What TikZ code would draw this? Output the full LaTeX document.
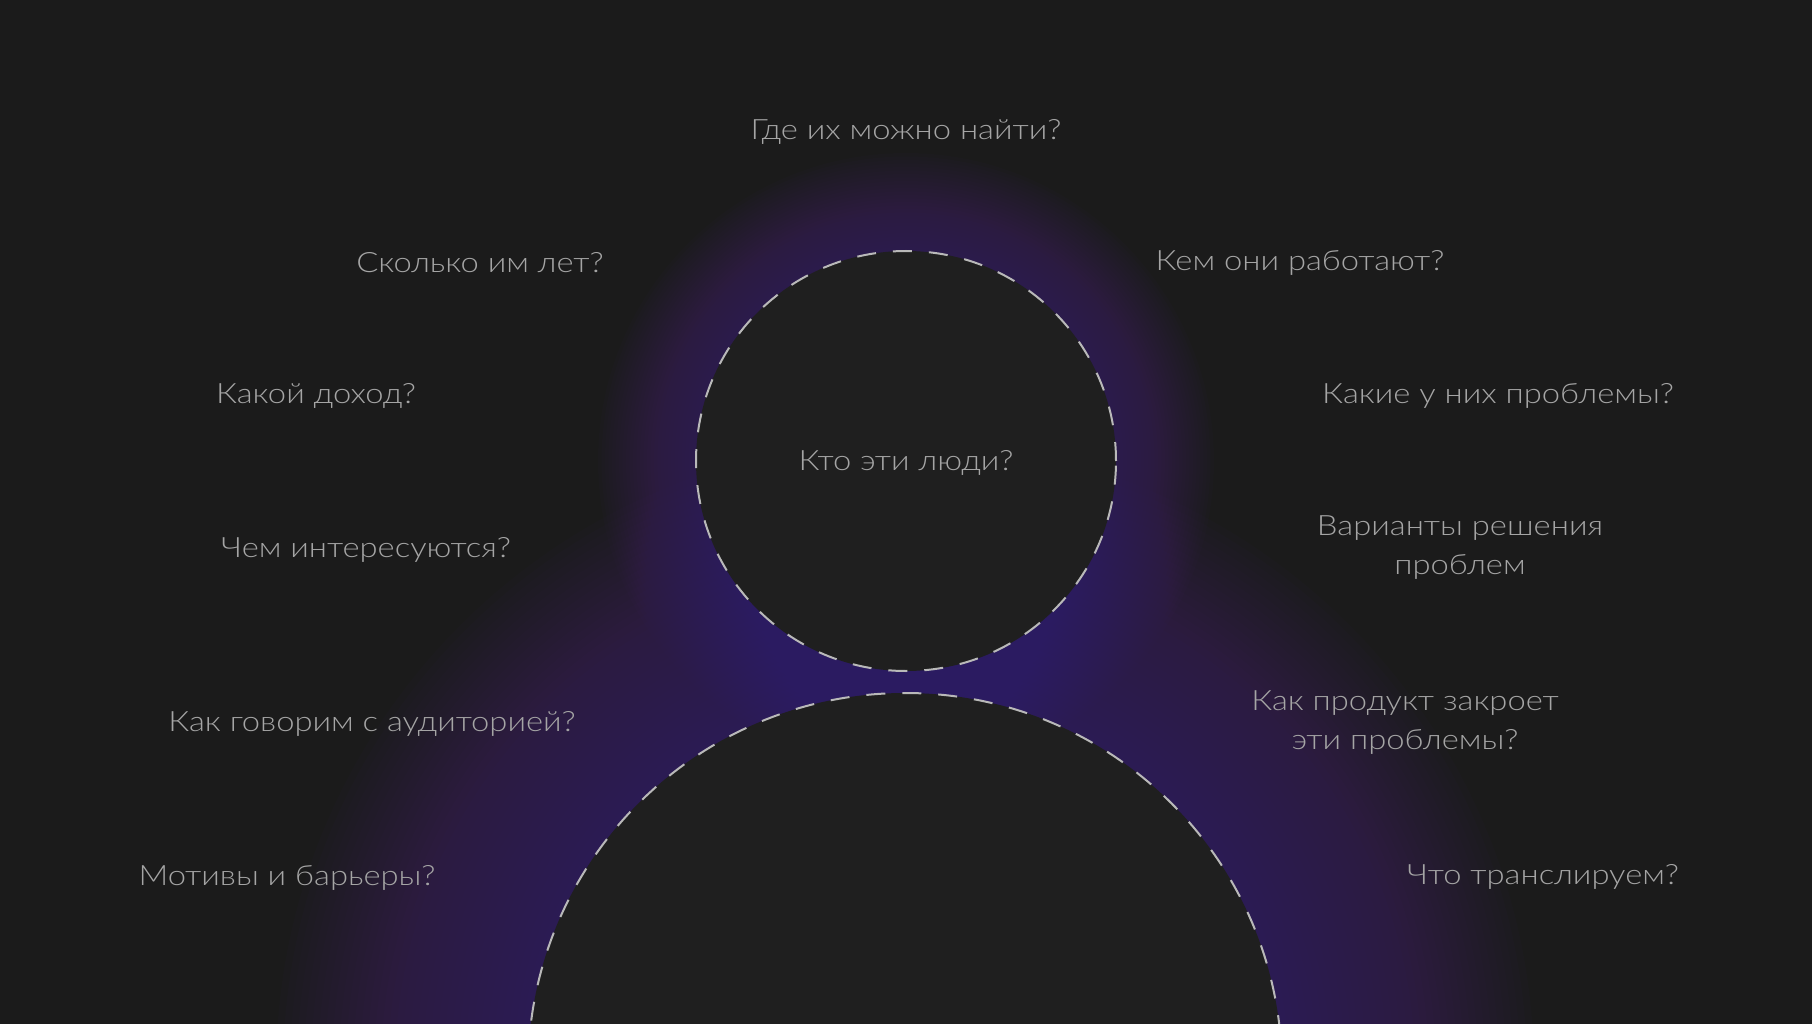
\documentclass[tikz,border=0pt]{standalone}
\usepackage{fontspec}
\setmainfont{Lato}[UprightFont=* Light,FakeStretch=1.17]
\usepackage{tikz}
\usetikzlibrary{positioning}

\definecolor{bgcol}{RGB}{27,27,27}
\definecolor{figcol}{RGB}{31,31,31}
\definecolor{glowcol}{RGB}{74,36,128}
\definecolor{txtcol}{RGB}{165,165,165}
\definecolor{dashcol}{RGB}{185,185,185}

\begin{document}
\begin{tikzpicture}[x=1pt,y=-1pt,
    glow/.style={fill=glowcol,fill opacity=0.03},
    figure/.style={circle,fill=figcol,draw=dashcol,line width=2pt,
        dash pattern=on 19pt off 17pt,inner sep=0pt},
    question/.style={text=txtcol,font=\fontsize{28}{39}\selectfont,align=center}]

        \useasboundingbox (0,0) rectangle (1812,1024);
        \clip (0,0) rectangle (1812,1024);
        \fill[bgcol] (0,0) rectangle (1812,1024);

        % glow behind the figure
        \coordinate (headc) at (906,461);
        \coordinate (bodyc) at (905,1070);
        \foreach \k in {1,...,28}
            \fill[glow] (headc) circle [radius={(210+3.5*\k)*1pt}];
        \foreach \k in {1,...,36}
            \fill[glow] (bodyc) circle [radius={(377+7*\k)*1pt}];

        % head and body
        \node[figure,minimum size=420pt] (head) at (headc) {};
        \node[figure,minimum size=754pt] (body) at (bodyc) {};
        \node[question] (who) at (906,463) {Кто эти люди?};

        % questions round the figure
        \node[question] (where) at (906,132) {Где их можно найти?};
        \node[question] (age) at (480,263) {Сколько им лет?};
        \node[question] (job) at (1300,263) {Кем они работают?};
        \node[question] (income) at (316,396) {Какой доход?};
        \node[question] (problems) at (1498,396) {Какие у них проблемы?};
        \node[question] (interests) at (366,550) {Чем интересуются?};
        \node[question] (solutions) at (1460,548) {Варианты решения\\проблем};
        \node[question] (talk) at (372,724) {Как говорим с аудиторией?};
        \node[question] (product) at (1405,723) {Как продукт закроет\\эти проблемы?};
        \node[question] (motives) at (287,878) {Мотивы и барьеры?};
        \node[question] (broadcast) at (1543,877) {Что транслируем?};
\end{tikzpicture}
\end{document}
